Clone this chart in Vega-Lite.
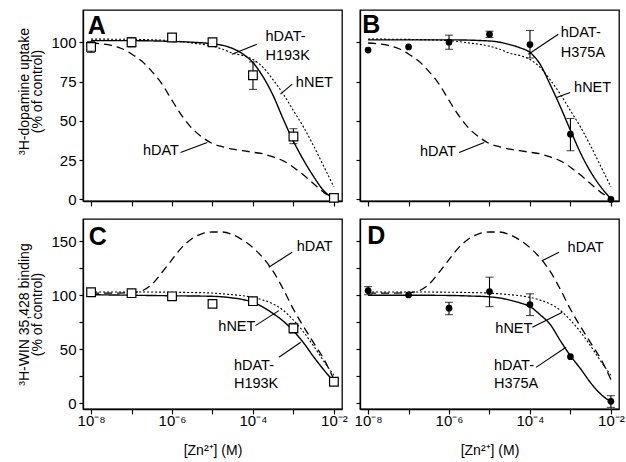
{
  "$schema": "https://vega.github.io/schema/vega-lite/v6.json",
  "background": "white",
  "padding": {"left": 17, "top": 9, "right": 0, "bottom": 0},
  "bounds": "flush",
  "columns": 2,
  "spacing": {"row": 18, "column": 18},
  "config": {
    "view": {"stroke": "black", "strokeWidth": 1.3},
    "axis": {"domainColor": "black", "domainWidth": 1.3, "tickColor": "black", "tickWidth": 1.2, "tickSize": 5, "labelFont": "Liberation Sans", "labelFontSize": 15, "labelColor": "black", "labelPadding": 2, "titleFont": "Liberation Sans", "titleFontSize": 14, "titleFontWeight": "normal", "titleColor": "black", "titleLineHeight": 13, "grid": false},
    "text": {"font": "Liberation Sans", "fontSize": 14.5, "color": "black"}
  },
  "datasets": {
    "curves": [
      {"a":"u","s":"hDAT","x":1e-8,"y":99.5},{"a":"u","s":"hDAT","x":1.778e-8,"y":99},{"a":"u","s":"hDAT","x":3.162e-8,"y":98},{"a":"u","s":"hDAT","x":5.623e-8,"y":96},{"a":"u","s":"hDAT","x":1e-7,"y":92.5},{"a":"u","s":"hDAT","x":1.778e-7,"y":88},{"a":"u","s":"hDAT","x":3.162e-7,"y":81.5},{"a":"u","s":"hDAT","x":5.623e-7,"y":73.5},{"a":"u","s":"hDAT","x":1e-6,"y":63},{"a":"u","s":"hDAT","x":1.778e-6,"y":53},{"a":"u","s":"hDAT","x":3.162e-6,"y":45},{"a":"u","s":"hDAT","x":5.623e-6,"y":39.5},{"a":"u","s":"hDAT","x":1e-5,"y":35.5},{"a":"u","s":"hDAT","x":1.778e-5,"y":33.5},{"a":"u","s":"hDAT","x":3.162e-5,"y":32},{"a":"u","s":"hDAT","x":5.623e-5,"y":31},{"a":"u","s":"hDAT","x":1e-4,"y":30},{"a":"u","s":"hDAT","x":1.778e-4,"y":29},{"a":"u","s":"hDAT","x":3.162e-4,"y":27},{"a":"u","s":"hDAT","x":5.623e-4,"y":24.5},{"a":"u","s":"hDAT","x":1e-3,"y":20.5},{"a":"u","s":"hDAT","x":1.778e-3,"y":15.5},{"a":"u","s":"hDAT","x":3.162e-3,"y":10},{"a":"u","s":"hDAT","x":5.623e-3,"y":4.5},{"a":"u","s":"hDAT","x":1e-2,"y":0.5},
      {"a":"u","s":"hNET","x":1e-8,"y":102},{"a":"u","s":"hNET","x":1e-7,"y":101.8},{"a":"u","s":"hNET","x":1e-6,"y":101},{"a":"u","s":"hNET","x":3.162e-6,"y":99.5},{"a":"u","s":"hNET","x":1e-5,"y":97.5},{"a":"u","s":"hNET","x":1.778e-5,"y":95.5},{"a":"u","s":"hNET","x":3.162e-5,"y":93},{"a":"u","s":"hNET","x":5.623e-5,"y":91.5},{"a":"u","s":"hNET","x":1e-4,"y":89},{"a":"u","s":"hNET","x":1.778e-4,"y":84},{"a":"u","s":"hNET","x":3.162e-4,"y":76},{"a":"u","s":"hNET","x":5.623e-4,"y":67},{"a":"u","s":"hNET","x":1e-3,"y":56.5},{"a":"u","s":"hNET","x":1.778e-3,"y":46},{"a":"u","s":"hNET","x":3.162e-3,"y":34},{"a":"u","s":"hNET","x":5.623e-3,"y":21},{"a":"u","s":"hNET","x":1e-2,"y":8},
      {"a":"u","s":"hDAT-H193K","x":1e-8,"y":101},{"a":"u","s":"hDAT-H193K","x":1e-7,"y":101},{"a":"u","s":"hDAT-H193K","x":1e-6,"y":100.5},{"a":"u","s":"hDAT-H193K","x":3.162e-6,"y":100},{"a":"u","s":"hDAT-H193K","x":1e-5,"y":99},{"a":"u","s":"hDAT-H193K","x":1.778e-5,"y":98},{"a":"u","s":"hDAT-H193K","x":3.162e-5,"y":96},{"a":"u","s":"hDAT-H193K","x":5.623e-5,"y":92.5},{"a":"u","s":"hDAT-H193K","x":1e-4,"y":87},{"a":"u","s":"hDAT-H193K","x":1.778e-4,"y":78},{"a":"u","s":"hDAT-H193K","x":3.162e-4,"y":66},{"a":"u","s":"hDAT-H193K","x":5.623e-4,"y":51},{"a":"u","s":"hDAT-H193K","x":1e-3,"y":37},{"a":"u","s":"hDAT-H193K","x":1.778e-3,"y":25},{"a":"u","s":"hDAT-H193K","x":3.162e-3,"y":14.5},{"a":"u","s":"hDAT-H193K","x":5.623e-3,"y":5.5},{"a":"u","s":"hDAT-H193K","x":1e-2,"y":0.5},
      {"a":"u","s":"hDAT-H375A","x":1e-8,"y":101.5},{"a":"u","s":"hDAT-H375A","x":1e-6,"y":101.5},{"a":"u","s":"hDAT-H375A","x":1e-5,"y":100.8},{"a":"u","s":"hDAT-H375A","x":1.778e-5,"y":100},{"a":"u","s":"hDAT-H375A","x":3.162e-5,"y":98.5},{"a":"u","s":"hDAT-H375A","x":5.623e-5,"y":96.5},{"a":"u","s":"hDAT-H375A","x":1e-4,"y":93.5},{"a":"u","s":"hDAT-H375A","x":1.778e-4,"y":86},{"a":"u","s":"hDAT-H375A","x":3.162e-4,"y":73},{"a":"u","s":"hDAT-H375A","x":5.623e-4,"y":59},{"a":"u","s":"hDAT-H375A","x":1e-3,"y":44},{"a":"u","s":"hDAT-H375A","x":1.778e-3,"y":29.5},{"a":"u","s":"hDAT-H375A","x":3.162e-3,"y":17.5},{"a":"u","s":"hDAT-H375A","x":5.623e-3,"y":8},{"a":"u","s":"hDAT-H375A","x":1e-2,"y":0.5},
      {"a":"b","s":"hDAT","x":1e-8,"y":102},{"a":"b","s":"hDAT","x":3.162e-8,"y":102},{"a":"b","s":"hDAT","x":1e-7,"y":102.5},{"a":"b","s":"hDAT","x":1.778e-7,"y":104},{"a":"b","s":"hDAT","x":3.162e-7,"y":110},{"a":"b","s":"hDAT","x":5.623e-7,"y":121},{"a":"b","s":"hDAT","x":1e-6,"y":133},{"a":"b","s":"hDAT","x":1.778e-6,"y":144.5},{"a":"b","s":"hDAT","x":3.162e-6,"y":152.5},{"a":"b","s":"hDAT","x":5.623e-6,"y":157},{"a":"b","s":"hDAT","x":1e-5,"y":158.5},{"a":"b","s":"hDAT","x":1.778e-5,"y":158.5},{"a":"b","s":"hDAT","x":3.162e-5,"y":156},{"a":"b","s":"hDAT","x":5.623e-5,"y":151},{"a":"b","s":"hDAT","x":1e-4,"y":144},{"a":"b","s":"hDAT","x":1.778e-4,"y":134.5},{"a":"b","s":"hDAT","x":3.162e-4,"y":122},{"a":"b","s":"hDAT","x":5.623e-4,"y":105.5},{"a":"b","s":"hDAT","x":1e-3,"y":87},{"a":"b","s":"hDAT","x":1.778e-3,"y":71},{"a":"b","s":"hDAT","x":3.162e-3,"y":56},{"a":"b","s":"hDAT","x":5.623e-3,"y":41},{"a":"b","s":"hDAT","x":1e-2,"y":22},
      {"a":"b","s":"hNET","x":1e-8,"y":103},{"a":"b","s":"hNET","x":1e-7,"y":103},{"a":"b","s":"hNET","x":1e-6,"y":102.8},{"a":"b","s":"hNET","x":3.162e-6,"y":102.5},{"a":"b","s":"hNET","x":1e-5,"y":102},{"a":"b","s":"hNET","x":1.778e-5,"y":101.3},{"a":"b","s":"hNET","x":3.162e-5,"y":100.5},{"a":"b","s":"hNET","x":5.623e-5,"y":99.5},{"a":"b","s":"hNET","x":1e-4,"y":98},{"a":"b","s":"hNET","x":1.778e-4,"y":95.5},{"a":"b","s":"hNET","x":3.162e-4,"y":92},{"a":"b","s":"hNET","x":5.623e-4,"y":86},{"a":"b","s":"hNET","x":1e-3,"y":77},{"a":"b","s":"hNET","x":1.778e-3,"y":66},{"a":"b","s":"hNET","x":3.162e-3,"y":53},{"a":"b","s":"hNET","x":5.623e-3,"y":39},{"a":"b","s":"hNET","x":1e-2,"y":26},
      {"a":"b","s":"hDAT-H193K","x":1e-8,"y":100.5},{"a":"b","s":"hDAT-H193K","x":1e-7,"y":100},{"a":"b","s":"hDAT-H193K","x":1e-6,"y":99.5},{"a":"b","s":"hDAT-H193K","x":1e-5,"y":99},{"a":"b","s":"hDAT-H193K","x":3.162e-5,"y":97.5},{"a":"b","s":"hDAT-H193K","x":5.623e-5,"y":96},{"a":"b","s":"hDAT-H193K","x":1e-4,"y":93.5},{"a":"b","s":"hDAT-H193K","x":1.778e-4,"y":89},{"a":"b","s":"hDAT-H193K","x":3.162e-4,"y":83},{"a":"b","s":"hDAT-H193K","x":5.623e-4,"y":76},{"a":"b","s":"hDAT-H193K","x":1e-3,"y":67},{"a":"b","s":"hDAT-H193K","x":1.778e-3,"y":56},{"a":"b","s":"hDAT-H193K","x":3.162e-3,"y":43},{"a":"b","s":"hDAT-H193K","x":5.623e-3,"y":31},{"a":"b","s":"hDAT-H193K","x":1e-2,"y":20},
      {"a":"b","s":"hDAT-H375A","x":1e-8,"y":100},{"a":"b","s":"hDAT-H375A","x":1e-7,"y":100},{"a":"b","s":"hDAT-H375A","x":1e-6,"y":99.8},{"a":"b","s":"hDAT-H375A","x":3.162e-6,"y":99.3},{"a":"b","s":"hDAT-H375A","x":1e-5,"y":98.5},{"a":"b","s":"hDAT-H375A","x":1.778e-5,"y":97.5},{"a":"b","s":"hDAT-H375A","x":3.162e-5,"y":95.5},{"a":"b","s":"hDAT-H375A","x":5.623e-5,"y":93},{"a":"b","s":"hDAT-H375A","x":1e-4,"y":89.5},{"a":"b","s":"hDAT-H375A","x":1.778e-4,"y":82},{"a":"b","s":"hDAT-H375A","x":3.162e-4,"y":73},{"a":"b","s":"hDAT-H375A","x":5.623e-4,"y":58},{"a":"b","s":"hDAT-H375A","x":1e-3,"y":44},{"a":"b","s":"hDAT-H375A","x":1.778e-3,"y":32},{"a":"b","s":"hDAT-H375A","x":3.162e-3,"y":19},{"a":"b","s":"hDAT-H375A","x":5.623e-3,"y":8.5},{"a":"b","s":"hDAT-H375A","x":1e-2,"y":1.5}
    ],
    "points": [
      {"p":"A","x":1e-8,"y":97,"lo":93.5,"hi":100.5},{"p":"A","x":1e-7,"y":100,"lo":97,"hi":103},{"p":"A","x":1e-6,"y":103},{"p":"A","x":1e-5,"y":100},{"p":"A","x":1e-4,"y":79,"lo":70,"hi":87.5},{"p":"A","x":1e-3,"y":40,"lo":35.5,"hi":45},{"p":"A","x":1e-2,"y":1},
      {"p":"B","x":1e-8,"y":95},{"p":"B","x":1e-7,"y":97},{"p":"B","x":1e-6,"y":100,"lo":95.5,"hi":104.5},{"p":"B","x":1e-5,"y":105,"lo":103,"hi":107},{"p":"B","x":1e-4,"y":98.5,"lo":90,"hi":107.5},{"p":"B","x":1e-3,"y":41.5,"lo":31,"hi":51.5},{"p":"B","x":1e-2,"y":0},
      {"p":"C","x":1e-8,"y":102.8},{"p":"C","x":1e-7,"y":101.9},{"p":"C","x":1e-6,"y":99,"lo":96.5,"hi":102},{"p":"C","x":1e-5,"y":92},{"p":"C","x":1e-4,"y":94.5,"lo":91.5,"hi":98},{"p":"C","x":1e-3,"y":69.5,"lo":65,"hi":74},{"p":"C","x":1e-2,"y":20},
      {"p":"D","x":1e-8,"y":104.3,"lo":100.5,"hi":108},{"p":"D","x":1e-7,"y":100.3},{"p":"D","x":1e-6,"y":88,"lo":82,"hi":93.5},{"p":"D","x":1e-5,"y":103.4,"lo":89.5,"hi":116.7},{"p":"D","x":1e-4,"y":91.4,"lo":81.2,"hi":101.3},{"p":"D","x":1e-3,"y":43.2},{"p":"D","x":1e-2,"y":1.9,"lo":-3.7,"hi":7.1}
    ],
    "labels": [
      {"p":"A","t":"hDAT-","x":2.04e-4,"y":103.5,"a":"l"},{"p":"A","t":"H193K","x":2.04e-4,"y":91,"a":"l"},{"p":"A","t":"hNET","x":1.148e-3,"y":74,"a":"l"},{"p":"A","t":"hDAT","x":1.479e-6,"y":31,"a":"r"},
      {"p":"B","t":"hDAT-","x":5.754e-4,"y":105.7,"a":"l"},{"p":"B","t":"H375A","x":5.754e-4,"y":93.2,"a":"l"},{"p":"B","t":"hNET","x":1.23e-3,"y":70.8,"a":"l"},{"p":"B","t":"hDAT","x":1.479e-6,"y":30,"a":"r"},
      {"p":"C","t":"hDAT","x":1.202e-3,"y":144.4,"a":"l"},{"p":"C","t":"hNET","x":1.148e-4,"y":70.4,"a":"r"},{"p":"C","t":"hDAT-","x":3.388e-5,"y":34.9,"a":"l"},{"p":"C","t":"H193K","x":3.388e-5,"y":18,"a":"l"},
      {"p":"D","t":"hDAT","x":8.511e-4,"y":143.9,"a":"l"},{"p":"D","t":"hNET","x":1.148e-4,"y":68.9,"a":"r"},{"p":"D","t":"hDAT-","x":1.288e-5,"y":34.9,"a":"l"},{"p":"D","t":"H375A","x":1.288e-5,"y":18,"a":"l"}
    ],
    "letters": [
      {"p":"A","t":"A","x":8.3e-9,"y":105.1},{"p":"B","t":"B","x":7.2e-9,"y":106.1},{"p":"C","t":"C","x":8.7e-9,"y":146},{"p":"D","t":"D","x":9.55e-9,"y":147.6}
    ],
    "leaders": [
      {"p":"A","x":1.259e-4,"y":98.7,"x2":3.02e-5,"y2":92.3},{"p":"A","x":9.33e-4,"y":73.3,"x2":4.786e-4,"y2":67},{"p":"A","x":1.622e-6,"y":29.9,"x2":7.413e-6,"y2":36.2},
      {"p":"B","x":5.012e-4,"y":105.1,"x2":9.12e-5,"y2":92.4},{"p":"B","x":9.772e-4,"y":68,"x2":4.571e-4,"y2":64.8},{"p":"B","x":1.778e-6,"y":29.9,"x2":7.413e-6,"y2":36.2},
      {"p":"C","x":9.33e-4,"y":139.8,"x2":2.455e-4,"y2":125.9},{"p":"C","x":1.148e-4,"y":71.9,"x2":4.365e-4,"y2":85.8},{"p":"C","x":4.365e-4,"y":42.6,"x2":1.514e-3,"y2":56.5},
      {"p":"D","x":5.248e-4,"y":139.8,"x2":2.042e-4,"y2":132.1},{"p":"D","x":1.148e-4,"y":70.4,"x2":6.31e-4,"y2":84.3},{"p":"D","x":1.413e-4,"y":33.3,"x2":7.762e-4,"y2":51.9}
    ]
  },
  "concat": [
    {
      "width": 259, "height": 191,
      "encoding": {
        "x": {"field": "x", "type": "quantitative", "scale": {"type": "log", "domain": [6.31e-9, 0.01585], "nice": false}, "axis": {"values": [1e-8,1e-7,1e-6,1e-5,1e-4,1e-3,1e-2], "labels": false, "title": null}},
        "y": {"field": "y", "type": "quantitative", "scale": {"domain": [-1, 120.5], "nice": false, "zero": false}, "axis": {"values": [0,25,50,75,100], "title": ["³H-dopamine uptake", "(% of control)"], "titlePadding": 6, "titleY": 81, "tickSize": 4, "labelPadding": 3}}
      },
      "layer": [
        {"data": {"name": "curves"}, "transform": [{"filter": "datum.a == 'u' && datum.s != 'hDAT-H375A'"}],
         "mark": {"type": "line", "interpolate": "monotone", "color": "black"},
         "encoding": {"detail": {"field": "s"},
           "strokeDash": {"field": "s", "type": "nominal", "scale": {"domain": ["hDAT","hNET","hDAT-H193K","hDAT-H375A"], "range": [[8,5],[2,2],[1,0],[1,0]]}, "legend": null},
           "strokeWidth": {"field": "s", "type": "nominal", "scale": {"type": "ordinal", "domain": ["hDAT","hNET","hDAT-H193K","hDAT-H375A"], "range": [1.3,1.1,1.4,1.4]}, "legend": null}}},
        {"data": {"name": "leaders"}, "transform": [{"filter": "datum.p == 'A'"}], "mark": {"type": "rule", "color": "black", "strokeWidth": 1.1},
         "encoding": {"x2": {"field": "x2"}, "y2": {"field": "y2"}}},
        {"data": {"name": "points"}, "transform": [{"filter": "datum.p == 'A' && isValid(datum.lo)"}], "mark": {"type": "rule", "color": "black", "strokeWidth": 1.1},
         "encoding": {"y": {"field": "lo", "type": "quantitative", "scale": {"domain": [-1, 120.5], "nice": false, "zero": false}}, "y2": {"field": "hi"}}},
        {"data": {"name": "points"}, "transform": [{"filter": "datum.p == 'A' && isValid(datum.lo)"}], "mark": {"type": "tick", "orient": "horizontal", "size": 8, "thickness": 1.1, "color": "black"},
         "encoding": {"y": {"field": "lo", "type": "quantitative", "scale": {"domain": [-1, 120.5], "nice": false, "zero": false}}}},
        {"data": {"name": "points"}, "transform": [{"filter": "datum.p == 'A' && isValid(datum.lo)"}], "mark": {"type": "tick", "orient": "horizontal", "size": 8, "thickness": 1.1, "color": "black"},
         "encoding": {"y": {"field": "hi", "type": "quantitative", "scale": {"domain": [-1, 120.5], "nice": false, "zero": false}}}},
        {"data": {"name": "points"}, "transform": [{"filter": "datum.p == 'A'"}], "mark": {"type": "square", "size": 75, "filled": true, "fill": "white", "stroke": "black", "strokeWidth": 1.2, "opacity": 1}},
        {"data": {"name": "labels"}, "transform": [{"filter": "datum.p == 'A' && datum.a == 'l'"}], "mark": {"type": "text", "align": "left", "baseline": "middle"}, "encoding": {"text": {"field": "t"}}},
        {"data": {"name": "labels"}, "transform": [{"filter": "datum.p == 'A' && datum.a == 'r'"}], "mark": {"type": "text", "align": "right", "baseline": "middle"}, "encoding": {"text": {"field": "t"}}},
        {"data": {"name": "letters"}, "transform": [{"filter": "datum.p == 'A'"}], "mark": {"type": "text", "align": "left", "baseline": "alphabetic", "fontSize": 25, "fontWeight": "bold", "font": "Liberation Sans"}, "encoding": {"text": {"field": "t"}}}
      ]
    },
    {
      "width": 259, "height": 191,
      "encoding": {
        "x": {"field": "x", "type": "quantitative", "scale": {"type": "log", "domain": [6.31e-9, 0.01585], "nice": false}, "axis": {"values": [1e-8,1e-7,1e-6,1e-5,1e-4,1e-3,1e-2], "labels": false, "title": null}},
        "y": {"field": "y", "type": "quantitative", "scale": {"domain": [-1, 120.5], "nice": false, "zero": false}, "axis": {"values": [0,25,50,75,100], "labels": false, "title": null, "tickSize": 4}}
      },
      "layer": [
        {"data": {"name": "curves"}, "transform": [{"filter": "datum.a == 'u' && datum.s != 'hDAT-H193K'"}],
         "mark": {"type": "line", "interpolate": "monotone", "color": "black"},
         "encoding": {"detail": {"field": "s"},
           "strokeDash": {"field": "s", "type": "nominal", "scale": {"domain": ["hDAT","hNET","hDAT-H193K","hDAT-H375A"], "range": [[8,5],[2,2],[1,0],[1,0]]}, "legend": null},
           "strokeWidth": {"field": "s", "type": "nominal", "scale": {"type": "ordinal", "domain": ["hDAT","hNET","hDAT-H193K","hDAT-H375A"], "range": [1.3,1.1,1.4,1.4]}, "legend": null}}},
        {"data": {"name": "leaders"}, "transform": [{"filter": "datum.p == 'B'"}], "mark": {"type": "rule", "color": "black", "strokeWidth": 1.1},
         "encoding": {"x2": {"field": "x2"}, "y2": {"field": "y2"}}},
        {"data": {"name": "points"}, "transform": [{"filter": "datum.p == 'B' && isValid(datum.lo)"}], "mark": {"type": "rule", "color": "black", "strokeWidth": 1.1},
         "encoding": {"y": {"field": "lo", "type": "quantitative", "scale": {"domain": [-1, 120.5], "nice": false, "zero": false}}, "y2": {"field": "hi"}}},
        {"data": {"name": "points"}, "transform": [{"filter": "datum.p == 'B' && isValid(datum.lo)"}], "mark": {"type": "tick", "orient": "horizontal", "size": 8, "thickness": 1.1, "color": "black"},
         "encoding": {"y": {"field": "lo", "type": "quantitative", "scale": {"domain": [-1, 120.5], "nice": false, "zero": false}}}},
        {"data": {"name": "points"}, "transform": [{"filter": "datum.p == 'B' && isValid(datum.lo)"}], "mark": {"type": "tick", "orient": "horizontal", "size": 8, "thickness": 1.1, "color": "black"},
         "encoding": {"y": {"field": "hi", "type": "quantitative", "scale": {"domain": [-1, 120.5], "nice": false, "zero": false}}}},
        {"data": {"name": "points"}, "transform": [{"filter": "datum.p == 'B'"}], "mark": {"type": "circle", "size": 45, "color": "black", "opacity": 1}},
        {"data": {"name": "labels"}, "transform": [{"filter": "datum.p == 'B' && datum.a == 'l'"}], "mark": {"type": "text", "align": "left", "baseline": "middle"}, "encoding": {"text": {"field": "t"}}},
        {"data": {"name": "labels"}, "transform": [{"filter": "datum.p == 'B' && datum.a == 'r'"}], "mark": {"type": "text", "align": "right", "baseline": "middle"}, "encoding": {"text": {"field": "t"}}},
        {"data": {"name": "letters"}, "transform": [{"filter": "datum.p == 'B'"}], "mark": {"type": "text", "align": "left", "baseline": "alphabetic", "fontSize": 25, "fontWeight": "bold", "font": "Liberation Sans"}, "encoding": {"text": {"field": "t"}}}
      ]
    },
    {
      "width": 259, "height": 190,
      "encoding": {
        "x": {"field": "x", "type": "quantitative", "scale": {"type": "log", "domain": [6.31e-9, 0.01585], "nice": false}, "axis": {"values": [1e-8,1e-7,1e-6,1e-5,1e-4,1e-3,1e-2], "labelExpr": "datum.value < 2e-8 ? '10⁻⁸' : (datum.value > 5e-7 && datum.value < 2e-6) ? '10⁻⁶' : (datum.value > 5e-5 && datum.value < 2e-4) ? '10⁻⁴' : datum.value > 5e-3 ? '10⁻²' : ''", "labelPadding": -1, "title": "[Zn²⁺] (M)", "titleFontSize": 14, "titlePadding": 15}},
        "y": {"field": "y", "type": "quantitative", "scale": {"domain": [-5.2, 170.5], "nice": false, "zero": false}, "axis": {"values": [0,25,50,75,100,125,150], "labelExpr": "datum.value % 50 == 0 ? datum.label : ''", "title": ["³H-WIN 35,428 binding", "(% of control)"], "titlePadding": 6, "tickSize": 4, "labelPadding": 3}}
      },
      "layer": [
        {"data": {"name": "curves"}, "transform": [{"filter": "datum.a == 'b' && datum.s != 'hDAT-H375A'"}],
         "mark": {"type": "line", "interpolate": "monotone", "color": "black"},
         "encoding": {"detail": {"field": "s"},
           "strokeDash": {"field": "s", "type": "nominal", "scale": {"domain": ["hDAT","hNET","hDAT-H193K","hDAT-H375A"], "range": [[8,5],[2,2],[1,0],[1,0]]}, "legend": null},
           "strokeWidth": {"field": "s", "type": "nominal", "scale": {"type": "ordinal", "domain": ["hDAT","hNET","hDAT-H193K","hDAT-H375A"], "range": [1.3,1.1,1.4,1.4]}, "legend": null}}},
        {"data": {"name": "leaders"}, "transform": [{"filter": "datum.p == 'C'"}], "mark": {"type": "rule", "color": "black", "strokeWidth": 1.1},
         "encoding": {"x2": {"field": "x2"}, "y2": {"field": "y2"}}},
        {"data": {"name": "points"}, "transform": [{"filter": "datum.p == 'C' && isValid(datum.lo)"}], "mark": {"type": "rule", "color": "black", "strokeWidth": 1.1},
         "encoding": {"y": {"field": "lo", "type": "quantitative", "scale": {"domain": [-5.2, 170.5], "nice": false, "zero": false}}, "y2": {"field": "hi"}}},
        {"data": {"name": "points"}, "transform": [{"filter": "datum.p == 'C' && isValid(datum.lo)"}], "mark": {"type": "tick", "orient": "horizontal", "size": 8, "thickness": 1.1, "color": "black"},
         "encoding": {"y": {"field": "lo", "type": "quantitative", "scale": {"domain": [-5.2, 170.5], "nice": false, "zero": false}}}},
        {"data": {"name": "points"}, "transform": [{"filter": "datum.p == 'C' && isValid(datum.lo)"}], "mark": {"type": "tick", "orient": "horizontal", "size": 8, "thickness": 1.1, "color": "black"},
         "encoding": {"y": {"field": "hi", "type": "quantitative", "scale": {"domain": [-5.2, 170.5], "nice": false, "zero": false}}}},
        {"data": {"name": "points"}, "transform": [{"filter": "datum.p == 'C'"}], "mark": {"type": "square", "size": 75, "filled": true, "fill": "white", "stroke": "black", "strokeWidth": 1.2, "opacity": 1}},
        {"data": {"name": "labels"}, "transform": [{"filter": "datum.p == 'C' && datum.a == 'l'"}], "mark": {"type": "text", "align": "left", "baseline": "middle"}, "encoding": {"text": {"field": "t"}}},
        {"data": {"name": "labels"}, "transform": [{"filter": "datum.p == 'C' && datum.a == 'r'"}], "mark": {"type": "text", "align": "right", "baseline": "middle"}, "encoding": {"text": {"field": "t"}}},
        {"data": {"name": "letters"}, "transform": [{"filter": "datum.p == 'C'"}], "mark": {"type": "text", "align": "left", "baseline": "alphabetic", "fontSize": 25, "fontWeight": "bold", "font": "Liberation Sans"}, "encoding": {"text": {"field": "t"}}}
      ]
    },
    {
      "width": 259, "height": 190,
      "encoding": {
        "x": {"field": "x", "type": "quantitative", "scale": {"type": "log", "domain": [6.31e-9, 0.01585], "nice": false}, "axis": {"values": [1e-8,1e-7,1e-6,1e-5,1e-4,1e-3,1e-2], "labelExpr": "datum.value < 2e-8 ? '10⁻⁸' : (datum.value > 5e-7 && datum.value < 2e-6) ? '10⁻⁶' : (datum.value > 5e-5 && datum.value < 2e-4) ? '10⁻⁴' : datum.value > 5e-3 ? '10⁻²' : ''", "labelPadding": -1, "title": "[Zn²⁺] (M)", "titleFontSize": 14, "titlePadding": 15}},
        "y": {"field": "y", "type": "quantitative", "scale": {"domain": [-5.2, 170.5], "nice": false, "zero": false}, "axis": {"values": [0,25,50,75,100,125,150], "labels": false, "title": null, "tickSize": 4}}
      },
      "layer": [
        {"data": {"name": "curves"}, "transform": [{"filter": "datum.a == 'b' && datum.s != 'hDAT-H193K'"}],
         "mark": {"type": "line", "interpolate": "monotone", "color": "black"},
         "encoding": {"detail": {"field": "s"},
           "strokeDash": {"field": "s", "type": "nominal", "scale": {"domain": ["hDAT","hNET","hDAT-H193K","hDAT-H375A"], "range": [[8,5],[2,2],[1,0],[1,0]]}, "legend": null},
           "strokeWidth": {"field": "s", "type": "nominal", "scale": {"type": "ordinal", "domain": ["hDAT","hNET","hDAT-H193K","hDAT-H375A"], "range": [1.3,1.1,1.4,1.4]}, "legend": null}}},
        {"data": {"name": "leaders"}, "transform": [{"filter": "datum.p == 'D'"}], "mark": {"type": "rule", "color": "black", "strokeWidth": 1.1},
         "encoding": {"x2": {"field": "x2"}, "y2": {"field": "y2"}}},
        {"data": {"name": "points"}, "transform": [{"filter": "datum.p == 'D' && isValid(datum.lo)"}], "mark": {"type": "rule", "color": "black", "strokeWidth": 1.1},
         "encoding": {"y": {"field": "lo", "type": "quantitative", "scale": {"domain": [-5.2, 170.5], "nice": false, "zero": false}}, "y2": {"field": "hi"}}},
        {"data": {"name": "points"}, "transform": [{"filter": "datum.p == 'D' && isValid(datum.lo)"}], "mark": {"type": "tick", "orient": "horizontal", "size": 8, "thickness": 1.1, "color": "black"},
         "encoding": {"y": {"field": "lo", "type": "quantitative", "scale": {"domain": [-5.2, 170.5], "nice": false, "zero": false}}}},
        {"data": {"name": "points"}, "transform": [{"filter": "datum.p == 'D' && isValid(datum.lo)"}], "mark": {"type": "tick", "orient": "horizontal", "size": 8, "thickness": 1.1, "color": "black"},
         "encoding": {"y": {"field": "hi", "type": "quantitative", "scale": {"domain": [-5.2, 170.5], "nice": false, "zero": false}}}},
        {"data": {"name": "points"}, "transform": [{"filter": "datum.p == 'D'"}], "mark": {"type": "circle", "size": 45, "color": "black", "opacity": 1}},
        {"data": {"name": "labels"}, "transform": [{"filter": "datum.p == 'D' && datum.a == 'l'"}], "mark": {"type": "text", "align": "left", "baseline": "middle"}, "encoding": {"text": {"field": "t"}}},
        {"data": {"name": "labels"}, "transform": [{"filter": "datum.p == 'D' && datum.a == 'r'"}], "mark": {"type": "text", "align": "right", "baseline": "middle"}, "encoding": {"text": {"field": "t"}}},
        {"data": {"name": "letters"}, "transform": [{"filter": "datum.p == 'D'"}], "mark": {"type": "text", "align": "left", "baseline": "alphabetic", "fontSize": 25, "fontWeight": "bold", "font": "Liberation Sans"}, "encoding": {"text": {"field": "t"}}}
      ]
    }
  ]
}
